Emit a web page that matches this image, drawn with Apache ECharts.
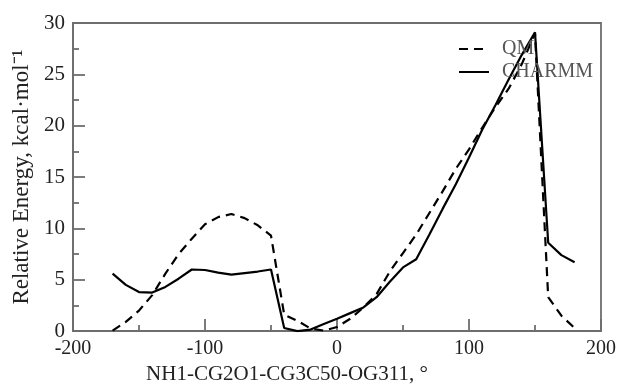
<!DOCTYPE html>
<html>
<head>
<meta charset="utf-8">
<script src="https://cdn.jsdelivr.net/npm/echarts@6/dist/echarts.min.js"></script>
<style>html,body{margin:0;padding:0;background:#fff}#c{width:621px;height:390px}</style>
</head>
<body>
<div id="c"></div>
<script>
const angles = [-170,-160,-150,-140,-130,-120,-110,-100,-90,-80,-70,-60,-50,-40,-30,-20,-10,0,10,20,30,40,50,60,70,80,90,100,110,120,130,140,150,160,170,180];
const qmValues = [0.05,0.9,2.0,3.5,5.6,7.5,9.0,10.4,11.1,11.4,11.0,10.3,9.3,1.6,1.0,0.25,0.05,0.4,1.2,2.3,3.6,5.8,7.6,9.4,11.5,13.6,15.8,17.7,19.8,21.8,23.6,26.0,29.0,3.3,1.5,0.3];
const charmmValues = [5.6,4.5,3.8,3.75,4.3,5.1,6.0,5.95,5.7,5.5,5.65,5.8,6.0,0.3,0.0,0.15,0.7,1.2,1.75,2.3,3.3,4.8,6.2,7.0,9.4,11.9,14.3,16.9,19.6,22.0,24.5,26.9,29.1,8.6,7.4,6.7];
const seriesNames = ['QM','CHARMM'];
const xTitle = 'NH1-CG2O1-CG3C50-OG311, °';
const yTitle = 'Relative Energy, kcal·mol⁻¹';

const font = 'Liberation Serif';
const chart = echarts.init(document.getElementById('c'), null, {renderer:'canvas'});
const pair = (xs, ys) => xs.map((x,i)=>[x, ys[i]]);
const axisGray = '#6e6e6e';
chart.setOption({
  animation:false,
  backgroundColor:'#fff',
  grid:{left:73,right:20,top:23,bottom:51,show:true,borderColor:axisGray,borderWidth:1.8,backgroundColor:'transparent'},
  legend:{
    orient:'vertical', left:453, top:34, itemWidth:30, itemHeight:12, itemGap:3,
    itemStyle:{color:'transparent',borderColor:'transparent',borderWidth:0},
    textStyle:{fontFamily:font,fontSize:20,color:'#555',padding:[0,0,0,8]},
    data:seriesNames
  },
  xAxis:{
    type:'value', min:-200, max:200, interval:100,
    name:xTitle, nameLocation:'middle', nameGap:31,
    nameTextStyle:{fontFamily:font,fontSize:21,color:'#222',padding:[0,100,0,0]},
    axisLine:{show:true,onZero:false,lineStyle:{color:axisGray,width:1.8}},
    axisTick:{show:true,inside:true,length:12,lineStyle:{color:axisGray,width:1.8}},
    minorTick:{show:true,splitNumber:2,length:6,lineStyle:{color:axisGray,width:1.8}},
    splitLine:{show:false},
    axisLabel:{fontFamily:font,fontSize:20,color:'#222',margin:8}
  },
  yAxis:{
    type:'value', min:0, max:30, interval:5,
    name:yTitle, nameLocation:'middle', nameGap:40,
    nameTextStyle:{fontFamily:font,fontSize:23,color:'#222'},
    axisLine:{show:true,onZero:false,lineStyle:{color:axisGray,width:1.8}},
    axisTick:{show:true,inside:true,length:12,lineStyle:{color:axisGray,width:1.8}},
    minorTick:{show:true,splitNumber:2,length:6,lineStyle:{color:axisGray,width:1.8}},
    splitLine:{show:false},
    axisLabel:{fontFamily:font,fontSize:21,color:'#222',margin:8}
  },
  series:[
    {name:seriesNames[0],type:'line',data:pair(angles,qmValues),showSymbol:false,symbol:'none',
     lineStyle:{color:'#000',width:2.2,type:[9,6]},itemStyle:{color:'#000'},z:3},
    {name:seriesNames[1],type:'line',data:pair(angles,charmmValues),showSymbol:false,symbol:'none',
     lineStyle:{color:'#000',width:2.2,type:'solid'},itemStyle:{color:'#000'},z:3}
  ]
});
</script>
</body>
</html>
